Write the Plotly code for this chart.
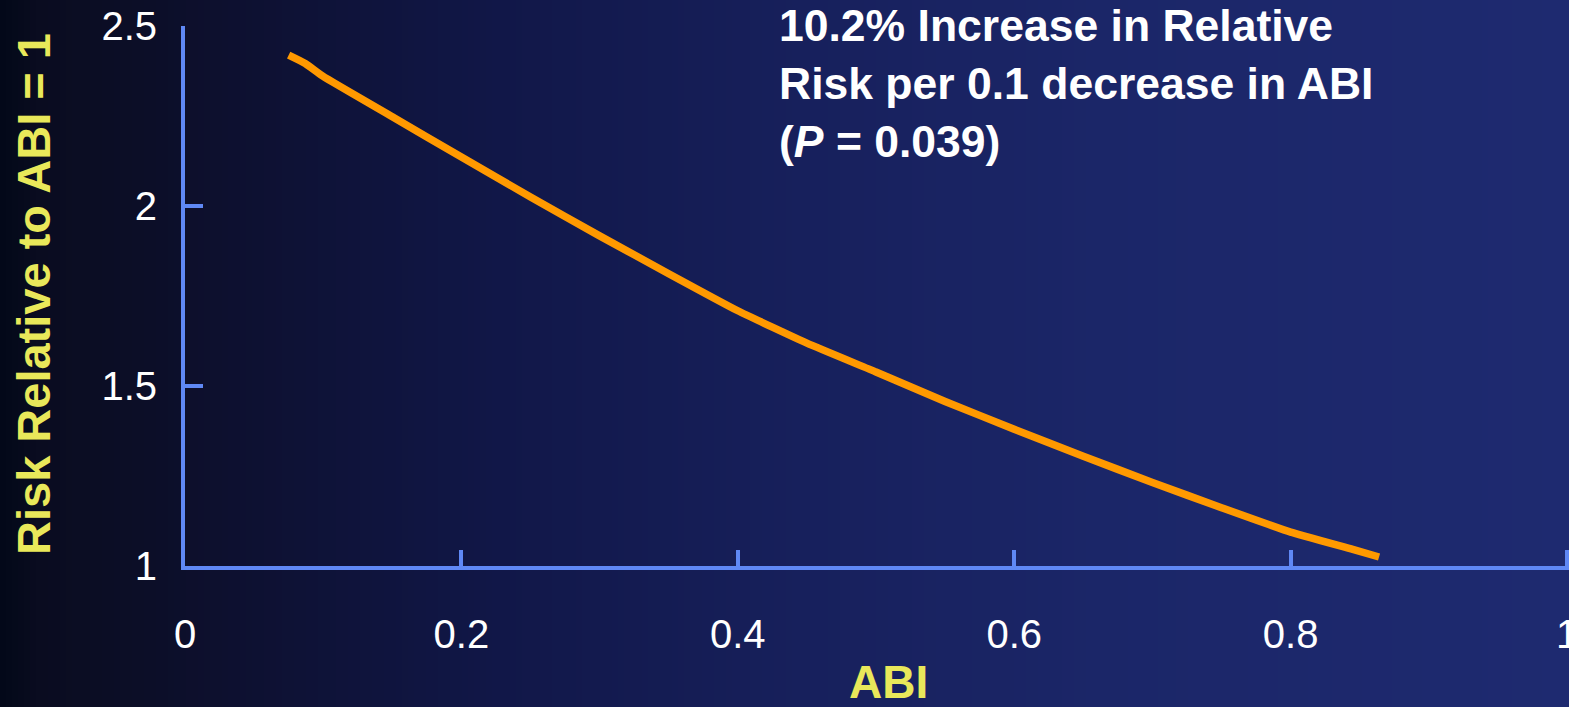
import plotly.graph_objects as go

# ---- data ----
abi = [0.075, 0.087, 0.100, 0.150, 0.200, 0.250, 0.300, 0.350, 0.400, 0.450,
       0.500, 0.550, 0.600, 0.650, 0.700, 0.750, 0.800, 0.845, 0.864]
risk = [2.419, 2.396, 2.360, 2.248, 2.136, 2.025, 1.917, 1.812, 1.709, 1.619,
        1.539, 1.457, 1.380, 1.305, 1.232, 1.162, 1.094, 1.046, 1.025]

x_ticks = [0, 0.2, 0.4, 0.6, 0.8, 1]
x_tick_labels = ["0", "0.2", "0.4", "0.6", "0.8", "1"]
y_ticks = [1, 1.5, 2, 2.5]
y_tick_labels = ["1", "1.5", "2", "2.5"]

annotation_text = "10.2% Increase in Relative<br>Risk per 0.1 decrease in ABI<br>(<i>P</i> = 0.039)"
x_title = "ABI"
y_title = "Risk Relative to ABI = 1"

# ---- layout geometry ----
W, H = 1569, 707
ML, MR, MT, MB = 185, 0, 26, 141
PW = W - ML - MR
PH = H - MT - MB
X_PX_PER_UNIT = 1382.0  # x=0 near 184 px, x=1 near 1566 px
X_MAX = PW / X_PX_PER_UNIT

def px_to_paper_x(px):
    return (px - ML) / PW

def px_to_paper_y(py):
    return (H - MB - py) / PH

FONT = "Arial, Liberation Sans, sans-serif"
AXIS_COLOR = "#5f88f5"
YELLOW = "#e9e85a"

fig = go.Figure()
fig.add_trace(go.Scatter(
    x=abi, y=risk, mode="lines",
    line=dict(color="#ff9900", width=7.5, shape="spline", smoothing=0.4),
    hoverinfo="skip", showlegend=False,
))

# background horizontal gradient via vertical strips
stops = [(0, (2, 8, 24)), (40, (10, 12, 32)), (150, (12, 14, 40)), (300, (14, 18, 54)),
         (500, (17, 23, 72)), (800, (23, 32, 92)), (1100, (27, 38, 104)), (1569, (30, 42, 112))]

def color_at(px):
    for (p0, c0), (p1, c1) in zip(stops[:-1], stops[1:]):
        if p0 <= px <= p1:
            t = (px - p0) / (p1 - p0)
            return tuple(round(a + (b - a) * t) for a, b in zip(c0, c1))
    return stops[-1][1]

shapes = []
step = 6
for px in range(0, W, step):
    c = color_at(px + step / 2)
    shapes.append(dict(
        type="rect", xref="paper", yref="paper", layer="below",
        x0=px_to_paper_x(px), x1=px_to_paper_x(px + step + 1),
        y0=px_to_paper_y(H + 2), y1=px_to_paper_y(-2),
        fillcolor=f"rgb{c}", line=dict(width=0),
    ))

fig.update_layout(
    width=W, height=H,
    margin=dict(l=ML, r=MR, t=MT, b=MB, autoexpand=False),
    paper_bgcolor="#0d1030",
    plot_bgcolor="rgba(0,0,0,0)",
    shapes=shapes,
    showlegend=False,
    font=dict(family=FONT, color="white"),
    xaxis=dict(
        range=[0, X_MAX], tickmode="array", tickvals=x_ticks, ticktext=x_tick_labels,
        showline=True, linecolor=AXIS_COLOR, linewidth=4,
        ticks="inside", ticklen=16, tickwidth=4, tickcolor=AXIS_COLOR,
        showgrid=False, zeroline=False, automargin=False,
        tickfont=dict(size=40, color="white", family=FONT),
        ticklabelstandoff=30, ticklabeloverflow="allow",
    ),
    yaxis=dict(
        range=[1, 2.5], tickmode="array", tickvals=y_ticks, ticktext=y_tick_labels,
        showline=True, linecolor=AXIS_COLOR, linewidth=4,
        ticks="inside", ticklen=18, tickwidth=4, tickcolor=AXIS_COLOR,
        showgrid=False, zeroline=False, automargin=False,
        tickfont=dict(size=40, color="white", family=FONT),
        ticklabelstandoff=16, ticklabeloverflow="allow",
    ),
    annotations=[
        dict(text=annotation_text, xref="paper", yref="paper",
             x=px_to_paper_x(777), y=px_to_paper_y(-1), xanchor="left", yanchor="top",
             align="left", showarrow=False,
             font=dict(size=44.5, color="white", family=FONT, weight="bold")),
        dict(text=x_title, xref="paper", yref="paper",
             x=px_to_paper_x(888), y=px_to_paper_y(682), xanchor="center", yanchor="middle",
             showarrow=False,
             font=dict(size=46, color=YELLOW, family=FONT, weight="bold")),
        dict(text=y_title, xref="paper", yref="paper", textangle=-90,
             x=px_to_paper_x(33), y=px_to_paper_y(294), xanchor="center", yanchor="middle",
             showarrow=False,
             font=dict(size=47, color=YELLOW, family=FONT, weight="bold")),
    ],
)

fig.write_html(
    "out.html",
    config={"displayModeBar": False},
    post_script="document.body.style.margin='0';document.body.style.padding='0';document.body.style.overflow='hidden';",
)
